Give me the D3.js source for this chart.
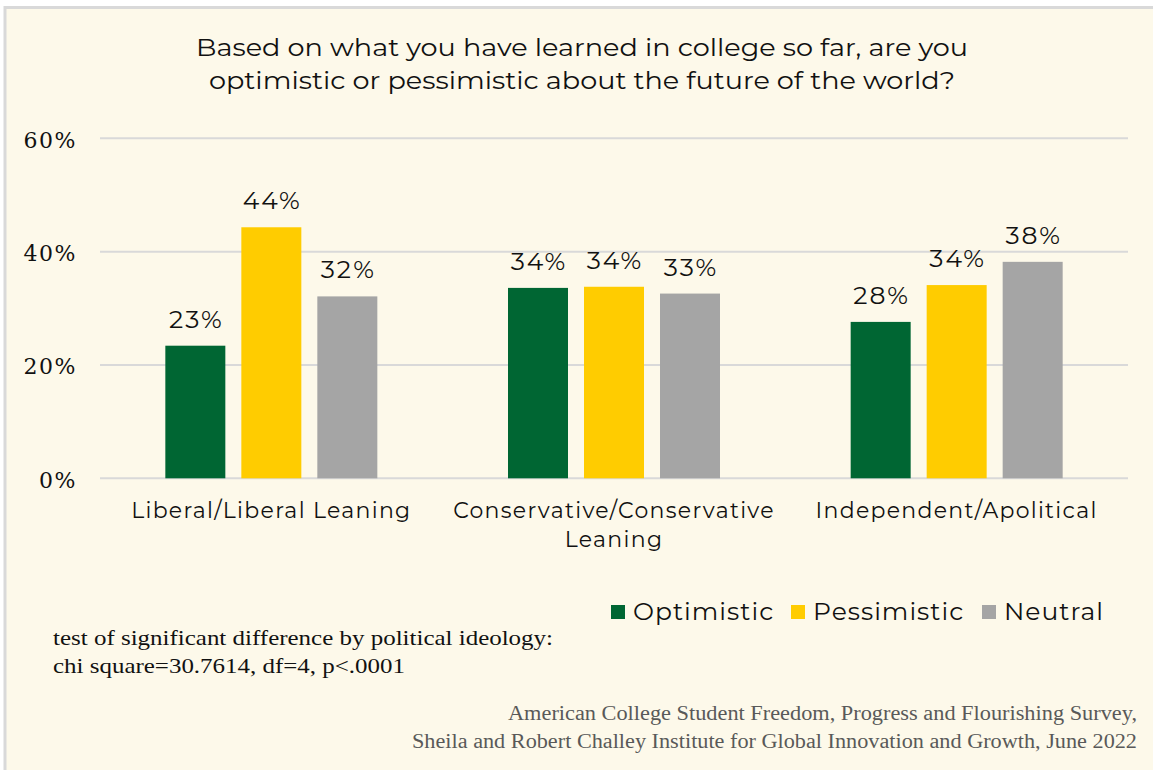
<!DOCTYPE html>
<html>
<head>
<meta charset="utf-8">
<script src="https://cdn.jsdelivr.net/npm/d3@7"></script>
<style>
  html, body { margin: 0; padding: 0; background: #ffffff; }
  svg { display: block; }
</style>
</head>
<body>
<svg id="chart" width="1153" height="770"></svg>
<script>
// Survey results by political ideology
const categories = [
  ["Liberal/Liberal Leaning"],
  ["Conservative/Conservative", "Leaning"],
  ["Independent/Apolitical"]
];
const seriesNames = ["Optimistic", "Pessimistic", "Neutral"];
const optimistic  = [23.4, 33.6, 27.6];
const pessimistic = [44.3, 33.8, 34.1];
const neutral     = [32.1, 32.6, 38.2];
const yTicks = [0, 20, 40, 60];
const colors = ["#006633", "#ffcc00", "#a5a5a5"];

const titleLines = [
  "Based on what you have learned in college so far, are you",
  "optimistic or pessimistic about the future of the world?"
];
const noteLines = [
  "test of significant difference by political ideology:",
  "chi square=30.7614, df=4, p<.0001"
];
const sourceLines = [
  "American College Student Freedom, Progress and Flourishing Survey,",
  "Sheila and Robert Challey Institute for Global Innovation and Growth, June 2022"
];

const sans = "Montserrat, 'Open Sans', 'Noto Sans', sans-serif";
const serif = "'DejaVu Serif', serif";

const svg = d3.select("#chart");

// panel background with a light frame
svg.append("rect")
  .attr("x", 5).attr("y", 7.5)
  .attr("width", 1160).attr("height", 780)
  .attr("fill", "#fdf9ea")
  .attr("stroke", "#d9d9d9").attr("stroke-width", 3);

// title
const titleWidths = [772, 746];
svg.append("g").selectAll("text").data(titleLines).join("text")
  .attr("x", 582).attr("y", (d, i) => 56 + i * 33)
  .attr("text-anchor", "middle")
  .attr("font-family", sans).attr("font-size", 25)
  .attr("textLength", (d, i) => titleWidths[i])
  .attr("lengthAdjust", "spacingAndGlyphs")
  .attr("fill", "#111")
  .text(d => d);

const margin = { left: 100, right: 1128, top: 138.3, bottom: 478.3 };

const x0 = d3.scaleBand()
  .domain(d3.range(categories.length))
  .range([margin.left, margin.right]);

// bars are 60px wide with 16px gaps, centred in each group
const groupInner = 3 * 60 + 2 * 16;
const x1 = d3.scaleBand()
  .domain(seriesNames)
  .range([(x0.bandwidth() - groupInner) / 2, (x0.bandwidth() + groupInner) / 2])
  .paddingInner(16 / 76)
  .paddingOuter(0);

const y = d3.scaleLinear().domain([0, 60]).range([margin.bottom, margin.top]);

// gridlines
svg.append("g").selectAll("line").data(yTicks).join("line")
  .attr("x1", margin.left).attr("x2", margin.right)
  .attr("y1", d => y(d)).attr("y2", d => y(d))
  .attr("stroke", "#d9d9d9").attr("stroke-width", 2);

// y axis labels
const yAxis = d3.axisLeft(y).tickValues(yTicks).tickFormat(d => d + "%").tickSize(0).tickPadding(0);
const yg = svg.append("g").attr("transform", `translate(77,1)`).call(yAxis);
yg.select(".domain").remove();
yg.selectAll("text")
  .attr("font-family", serif).attr("font-size", 22)
  .attr("letter-spacing", 1.5)
  .attr("fill", "#111").attr("dy", "0.35em");

// bars
const table = categories.map((c, i) => ({
  idx: i,
  values: [optimistic[i], pessimistic[i], neutral[i]]
}));

const groups = svg.append("g").selectAll("g").data(table).join("g")
  .attr("transform", d => `translate(${x0(d.idx)},0)`);

groups.selectAll("rect").data(d => d.values.map((v, j) => ({ v, j }))).join("rect")
  .attr("x", d => x1(seriesNames[d.j]))
  .attr("width", x1.bandwidth())
  .attr("y", d => y(d.v))
  .attr("height", d => y(0) - y(d.v))
  .attr("fill", d => colors[d.j]);

groups.selectAll("text.val").data(d => d.values.map((v, j) => ({ v, j }))).join("text")
  .attr("class", "val")
  .attr("x", d => x1(seriesNames[d.j]) + x1.bandwidth() / 2 + 1)
  .attr("y", d => y(d.v) - 18)
  .attr("text-anchor", "middle")
  .attr("font-family", sans).attr("font-size", 25)
  .attr("letter-spacing", 2)
  .attr("fill", "#111")
  .text(d => Math.round(d.v) + "%");

// category labels
svg.append("g").selectAll("text").data(table).join("text")
  .attr("x", d => x0(d.idx) + x0.bandwidth() / 2)
  .attr("y", 518)
  .attr("text-anchor", "middle")
  .attr("font-family", sans).attr("font-size", 22)
  .attr("letter-spacing", 1.3)
  .attr("fill", "#111")
  .selectAll("tspan").data(d => categories[d.idx]).join("tspan")
    .attr("x", function () { return d3.select(this.parentNode).attr("x"); })
    .attr("dy", (d, i) => i === 0 ? 0 : 29)
    .text(d => d);

// legend
const legendX = [611, 791, 982];
const lg = svg.append("g").selectAll("g").data(seriesNames).join("g")
  .attr("transform", (d, i) => `translate(${legendX[i]},0)`);
lg.append("rect").attr("x", 0).attr("y", 605).attr("width", 14).attr("height", 14)
  .attr("fill", (d, i) => colors[i]);
lg.append("text").attr("x", 22).attr("y", 620)
  .attr("font-family", sans).attr("font-size", 25).attr("fill", "#111")
  .attr("letter-spacing", 1)
  .text(d => d);

// significance note
const noteWidths = [500, 352];
svg.append("g").selectAll("text").data(noteLines).join("text")
  .attr("x", 53).attr("y", (d, i) => 645 + i * 28)
  .attr("font-family", "'Liberation Serif', serif").attr("font-size", 22)
  .attr("textLength", (d, i) => noteWidths[i])
  .attr("lengthAdjust", "spacingAndGlyphs")
  .attr("fill", "#111")
  .text(d => d);

// source
const sourceWidths = [629, 725];
svg.append("g").selectAll("text").data(sourceLines).join("text")
  .attr("x", 1137).attr("y", (d, i) => 720 + i * 28)
  .attr("text-anchor", "end")
  .attr("font-family", "'Liberation Serif', serif").attr("font-size", 20)
  .attr("textLength", (d, i) => sourceWidths[i])
  .attr("lengthAdjust", "spacingAndGlyphs")
  .attr("fill", "#595959")
  .text(d => d);
</script>
</body>
</html>
